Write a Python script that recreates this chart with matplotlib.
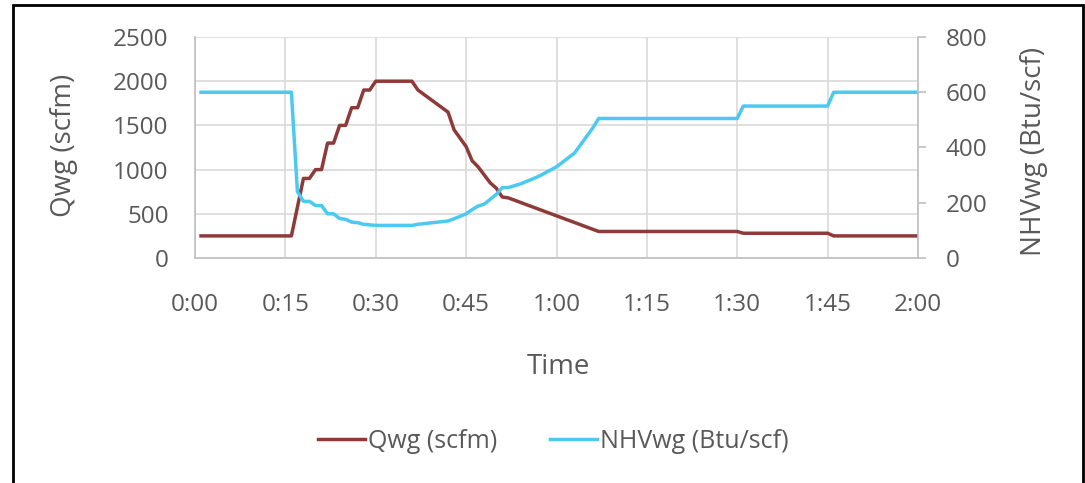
import matplotlib
matplotlib.use("Agg")
import matplotlib.pyplot as plt
from matplotlib.patches import Rectangle

plt.rcParams['font.family'] = ['Open Sans', 'DejaVu Sans']

# data (time in minutes)
q_time = [1, 16, 18, 19, 20, 21, 22, 23, 24, 25, 26, 27, 28, 29, 30, 36, 37, 42, 43,
          45, 46, 47, 49, 50, 51, 52, 67, 90, 91, 105, 106, 120]
q_wg = [250, 250, 900, 900, 1000, 1000, 1300, 1300, 1500, 1500, 1700, 1700, 1900, 1900,
        2000, 2000, 1900, 1650, 1450, 1260, 1100, 1030, 850, 790, 690, 680, 300, 300,
        280, 280, 250, 250]

nhv_time = [1, 16, 17, 18, 19, 20, 21, 22, 23, 24, 25, 26, 27, 28, 29, 30, 36, 37, 42,
            43, 45, 46, 47, 48, 50, 51, 52, 54, 57, 60, 63, 65, 66, 67, 90, 91, 105, 106, 120]
nhv_wg = [600, 600, 240, 205, 205, 190, 190, 160, 160, 143, 140, 130, 128, 122, 120, 118,
          118, 122, 134, 142, 160, 175, 188, 195, 230, 255, 255, 268, 295, 330, 380, 440,
          470, 505, 505, 550, 550, 600, 600]

x_ticks = [0, 15, 30, 45, 60, 75, 90, 105, 120]
x_labels = ['0:00', '0:15', '0:30', '0:45', '1:00', '1:15', '1:30', '1:45', '2:00']

red = '#8e3a38'
blue = '#4cc9f0'
grey_txt = '#595959'
grid_c = '#d9d9d9'
fs_tick = 17.5
fs_lab = 20
fs_leg = 18

fig = plt.figure(figsize=(10.85, 4.83), dpi=100)
ax = fig.add_axes([195/1085, 1-258/483, 723/1085, 221/483])
ax2 = ax.twinx()

l1, = ax.plot(q_time, q_wg, color=red, lw=2.5, label='Qwg (scfm)')
l2, = ax2.plot(nhv_time, nhv_wg, color=blue, lw=2.5, label='NHVwg (Btu/scf)')

ax.set_xlim(0, 120)
ax.set_ylim(0, 2500)
ax2.set_ylim(0, 800)
ax.set_xticks(x_ticks)
ax.set_xticklabels(x_labels)
ax.set_yticks(range(0, 2501, 500))
ax2.set_yticks(range(0, 801, 200))

ax.grid(True, color=grid_c, lw=1.2)
ax.set_axisbelow(True)

for a in (ax, ax2):
    for s in a.spines.values():
        s.set_visible(False)
ax.spines['left'].set_visible(True)
ax.spines['bottom'].set_visible(True)
ax2.spines['right'].set_visible(True)
for s in (ax.spines['left'], ax.spines['bottom'], ax2.spines['right']):
    s.set_color('#bfbfbf')
    s.set_linewidth(1.2)

ax.tick_params(axis='x', length=0, pad=25, labelsize=fs_tick, labelcolor=grey_txt)
ax.tick_params(axis='y', length=0, pad=19, labelsize=fs_tick, labelcolor=grey_txt)
ax2.tick_params(axis='y', length=6, width=1.2, color='#bfbfbf', pad=14, labelsize=fs_tick,
                labelcolor=grey_txt)

ax.set_xlabel('Time', fontsize=fs_lab, color=grey_txt)
ax.xaxis.set_label_coords(0.502, -0.43)
ax.set_ylabel('Qwg (scfm)', fontsize=fs_lab, color=grey_txt)
ax.yaxis.set_label_coords(-0.162, 0.51)
ax2.set_ylabel('NHVwg (Btu/scf)', fontsize=fs_lab, color=grey_txt)
ax2.yaxis.set_label_coords(1.141, 0.48)

leg = fig.legend(handles=[l1, l2], loc='center', bbox_to_anchor=(553/1085, 1-441/483),
                 ncol=2, frameon=False, fontsize=fs_leg, handlelength=1.9, handletextpad=0.1,
                 columnspacing=2.1)
for t in leg.get_texts():
    t.set_color(grey_txt)

# outer border like the source screenshot
fig.patches.append(Rectangle((13/1085, -0.01), 1070/1085, 1-5/483+0.01,
                             transform=fig.transFigure, fill=False, ec='black', lw=2))

fig.savefig('out.png', dpi=100)
